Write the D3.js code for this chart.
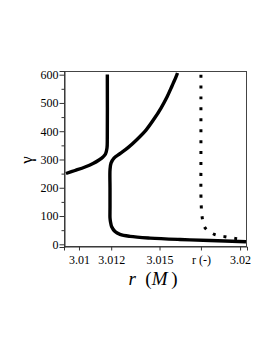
<!DOCTYPE html>
<html><head><meta charset="utf-8">
<script src="https://cdn.jsdelivr.net/npm/d3@7"></script>
<style>body{margin:0;background:#fff}svg{display:block}</style>
</head><body>
<script>
// Data (r in M, gamma)
const rA = [3.009194, 3.009753, 3.010374, 3.010870, 3.011243, 3.011491, 3.011646, 3.011739, 3.011758, 3.011760];
const gA = [250.4, 261, 273.4, 285.8, 298.2, 308.8, 319.4, 340.7, 376, 601];

const rB = [3.016116, 3.016023, 3.015775, 3.015464, 3.015092, 3.014657, 3.014161, 3.013602, 3.013043, 3.012546, 3.012174, 3.011988, 3.011926, 3.011926, 3.011926, 3.011926, 3.011957, 3.012031, 3.012236, 3.012546, 3.013167, 3.014409, 3.016271, 3.018133, 3.020368];
const gB = [606, 592, 560, 521, 482, 443, 404, 371, 342, 321, 305, 287, 263, 200, 130, 93, 79, 62, 45, 35, 28, 22, 17, 13.5, 9];

const rC = [3.01757, 3.01757, 3.01757, 3.01759, 3.01764, 3.01782, 3.0184, 3.01907, 3.01969, 3.02006];
const gC = [600, 300, 175, 135, 98, 59, 35, 27, 21, 18];

const xTickVals = [3.01, 3.012, 3.015, 3.01757, 3.02];
const xTickLabels = ["3.01", "3.012", "3.015", "r (-)", "3.02"];
const yTickVals = [0, 100, 200, 300, 400, 500, 600];
const yMinorVals = [50, 150, 250, 350, 450, 550];

const W = 273, H = 353;
const L = 64, R = 247, T = 71, B = 247;
const svg = d3.select("body").append("svg").attr("width", W).attr("height", H);
const x = d3.scaleLinear().domain([3.00907, 3.02043]).range([L, R]);
const y = d3.scaleLinear().domain([-9.55, 613]).range([B, T]);

svg.append("clipPath").attr("id", "c").append("rect")
  .attr("x", L).attr("y", T).attr("width", R - L).attr("height", B - T);

const font = "'Liberation Serif', 'Times New Roman', serif";

// frame
svg.append("rect").attr("x", L + 0.5).attr("y", T + 0.5).attr("width", R - L - 1).attr("height", B - T - 1)
  .attr("fill", "none").attr("stroke", "#444").attr("stroke-width", 1);

// axes
const xAxis = d3.axisBottom(x).tickValues(xTickVals).tickFormat((d, i) => xTickLabels[i]).tickSize(4).tickPadding(5);
const gx = svg.append("g").attr("transform", `translate(0,${B - 0.5})`).call(xAxis);
gx.select(".domain").attr("stroke", "#333");
gx.selectAll(".tick line").attr("stroke", "#333");
gx.selectAll("text").attr("font-family", font).attr("font-size", 12).attr("fill", "#000");

const yAxis = d3.axisLeft(y).tickValues(yTickVals).tickSize(5).tickPadding(1);
const gy = svg.append("g").attr("transform", `translate(${L + 0.5},0)`).call(yAxis);
gy.select(".domain").attr("stroke", "#333");
gy.selectAll(".tick line").attr("stroke", "#333");
gy.selectAll("text").attr("font-family", font).attr("font-size", 12).attr("fill", "#000");
const yMinor = d3.axisLeft(y).tickValues(yMinorVals).tickSize(3).tickFormat("");
const gym = svg.append("g").attr("transform", `translate(${L + 0.5},0)`).call(yMinor);
gym.select(".domain").remove();
gym.selectAll(".tick line").attr("stroke", "#333");

// curves
const line = d3.line().x(d => x(d[0])).y(d => y(d[1])).curve(d3.curveCatmullRom.alpha(0.5));
const plot = svg.append("g").attr("clip-path", "url(#c)");
plot.append("path").datum(rA.map((r, i) => [r, gA[i]])).attr("d", line)
  .attr("fill", "none").attr("stroke", "#000").attr("stroke-width", 3.4);
plot.append("path").datum(rB.map((r, i) => [r, gB[i]])).attr("d", line)
  .attr("fill", "none").attr("stroke", "#000").attr("stroke-width", 3.4);
plot.append("path").datum(rC.map((r, i) => [r, gC[i]])).attr("d", line)
  .attr("fill", "none").attr("stroke", "#000").attr("stroke-width", 3)
  .attr("stroke-dasharray", "3,7.9");

// labels
svg.append("text").attr("transform", "translate(32,160) rotate(-90)")
  .attr("text-anchor", "middle").attr("font-family", font).attr("font-size", 17).text("γ");
const xl = svg.append("text").attr("x", 153).attr("y", 285).attr("text-anchor", "middle")
  .attr("font-family", font).attr("font-size", 19);
xl.append("tspan").attr("font-style", "italic").text("r");
xl.append("tspan").text("\u2002(");
xl.append("tspan").attr("font-style", "italic").text("M");
xl.append("tspan").text("\u2009)");
</script>
</body></html>
